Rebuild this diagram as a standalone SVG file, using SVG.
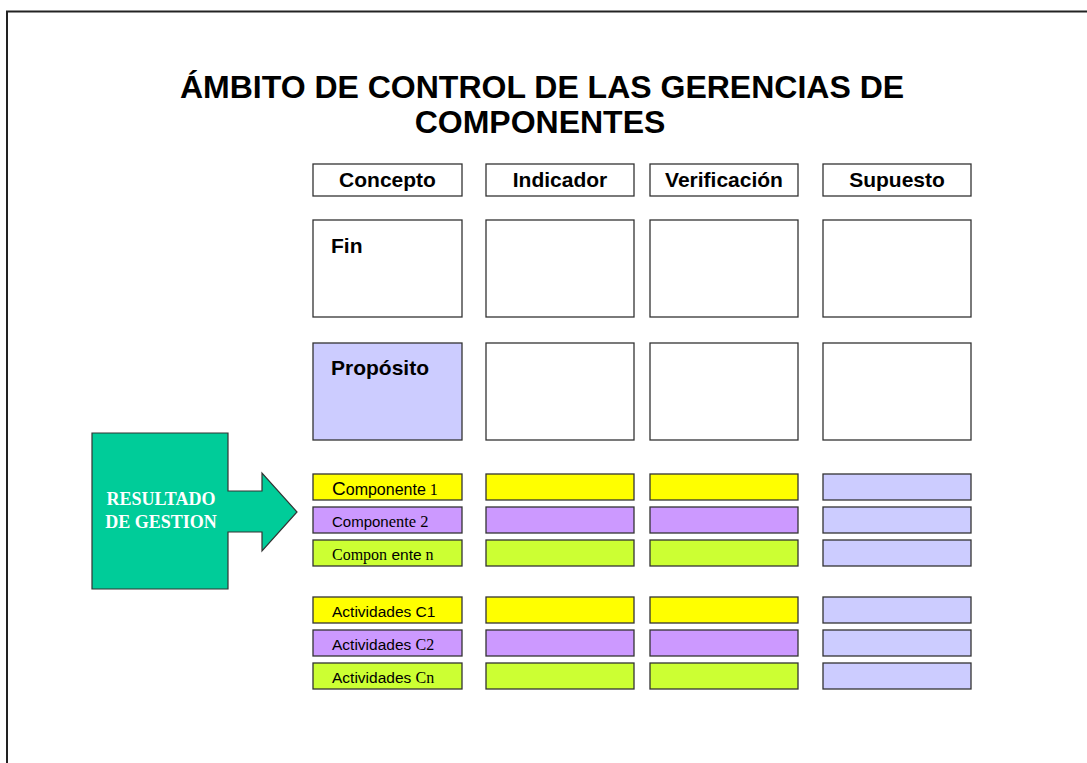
<svg xmlns="http://www.w3.org/2000/svg" width="1087" height="763" viewBox="0 0 1087 763">
<style>
.box{stroke:#333;stroke-width:1.3}
.w{fill:#fff}
.y{fill:#ffff00}
.p{fill:#cc99ff}
.g{fill:#ccff33}
.l{fill:#ccccff}
.hdr{font-family:"Liberation Sans",Arial,sans-serif;font-weight:bold;font-size:21px;fill:#000}
.title{font-family:"Liberation Sans",Arial,sans-serif;font-weight:bold;font-size:32px;fill:#000}
.sans{font-family:"Liberation Sans",Arial,sans-serif}
.serif{font-family:"Liberation Serif","Times New Roman",serif}
.lbl{font-size:15.5px;fill:#000}
</style>
<rect width="1087" height="763" fill="#fff"/>
<path d="M7,763 V11.5 H1087" fill="none" stroke="#222" stroke-width="2"/>
<g id="title">
<text class="title" x="542" y="98" text-anchor="middle">ÁMBITO DE CONTROL DE LAS GERENCIAS DE</text>
<text class="title" x="540" y="133" text-anchor="middle">COMPONENTES</text>
</g>
<g id="headers">
<g id="h-concepto"><rect class="box w" x="313" y="164" width="149" height="32"/><text class="hdr" x="387.5" y="187" text-anchor="middle">Concepto</text></g>
<g id="h-indicador"><rect class="box w" x="486" y="164" width="148" height="32"/><text class="hdr" x="560" y="187" text-anchor="middle">Indicador</text></g>
<g id="h-verificacion"><rect class="box w" x="650" y="164" width="148" height="32"/><text class="hdr" x="724" y="187" text-anchor="middle">Verificación</text></g>
<g id="h-supuesto"><rect class="box w" x="823" y="164" width="148" height="32"/><text class="hdr" x="897" y="187" text-anchor="middle">Supuesto</text></g>
</g>
<g id="row-fin">
<rect class="box w" x="313" y="220" width="149" height="97"/><text class="hdr" x="331" y="253">Fin</text>
<rect class="box w" x="486" y="220" width="148" height="97"/>
<rect class="box w" x="650" y="220" width="148" height="97"/>
<rect class="box w" x="823" y="220" width="148" height="97"/>
</g>
<g id="row-proposito">
<rect class="box l" x="313" y="343" width="149" height="97"/><text class="hdr" x="331" y="375">Propósito</text>
<rect class="box w" x="486" y="343" width="148" height="97"/>
<rect class="box w" x="650" y="343" width="148" height="97"/>
<rect class="box w" x="823" y="343" width="148" height="97"/>
</g>
<g id="row-c1">
<rect class="box y" x="313" y="474" width="149" height="26"/>
<text class="lbl" x="332" y="495"><tspan class="sans" font-size="19">C</tspan><tspan class="sans" font-size="16">omponente</tspan><tspan class="serif" font-size="16"> 1</tspan></text>
<rect class="box y" x="486" y="474" width="148" height="26"/>
<rect class="box y" x="650" y="474" width="148" height="26"/>
<rect class="box l" x="823" y="474" width="148" height="26"/>
</g>
<g id="row-c2">
<rect class="box p" x="313" y="507" width="149" height="26"/>
<text class="lbl" x="332" y="527"><tspan class="sans" font-size="15">Compon</tspan><tspan class="serif" font-size="16.5">ente 2</tspan></text>
<rect class="box p" x="486" y="507" width="148" height="26"/>
<rect class="box p" x="650" y="507" width="148" height="26"/>
<rect class="box l" x="823" y="507" width="148" height="26"/>
</g>
<g id="row-cn">
<rect class="box g" x="313" y="540" width="149" height="26"/>
<text class="lbl" x="332" y="560"><tspan class="serif" font-size="16">Compon</tspan><tspan class="sans" font-size="15.5"> ente</tspan><tspan class="serif" font-size="16"> n</tspan></text>
<rect class="box g" x="486" y="540" width="148" height="26"/>
<rect class="box g" x="650" y="540" width="148" height="26"/>
<rect class="box l" x="823" y="540" width="148" height="26"/>
</g>
<g id="row-a1">
<rect class="box y" x="313" y="597" width="149" height="26"/>
<text class="lbl sans" x="332" y="617">Actividades C1</text>
<rect class="box y" x="486" y="597" width="148" height="26"/>
<rect class="box y" x="650" y="597" width="148" height="26"/>
<rect class="box l" x="823" y="597" width="148" height="26"/>
</g>
<g id="row-a2">
<rect class="box p" x="313" y="630" width="149" height="26"/>
<text class="lbl" x="332" y="650"><tspan class="sans">Actividades </tspan><tspan class="serif" font-size="16">C2</tspan></text>
<rect class="box p" x="486" y="630" width="148" height="26"/>
<rect class="box p" x="650" y="630" width="148" height="26"/>
<rect class="box l" x="823" y="630" width="148" height="26"/>
</g>
<g id="row-an">
<rect class="box g" x="313" y="663" width="149" height="26"/>
<text class="lbl" x="332" y="683"><tspan class="sans">Actividades </tspan><tspan class="serif" font-size="16">Cn</tspan></text>
<rect class="box g" x="486" y="663" width="148" height="26"/>
<rect class="box g" x="650" y="663" width="148" height="26"/>
<rect class="box l" x="823" y="663" width="148" height="26"/>
</g>
<g id="resultado">
<polygon points="92,433 228,433 228,491 262,491 262,473 297,512 262,551 262,532 228,532 228,589 92,589" fill="#00cc99" stroke="#333" stroke-width="1.2"/>
<text class="serif" font-weight="bold" font-size="18" fill="#fff" text-anchor="middle"><tspan x="161" y="505">RESULTADO</tspan><tspan x="161" y="528">DE GESTION</tspan></text>
</g>
</svg>
